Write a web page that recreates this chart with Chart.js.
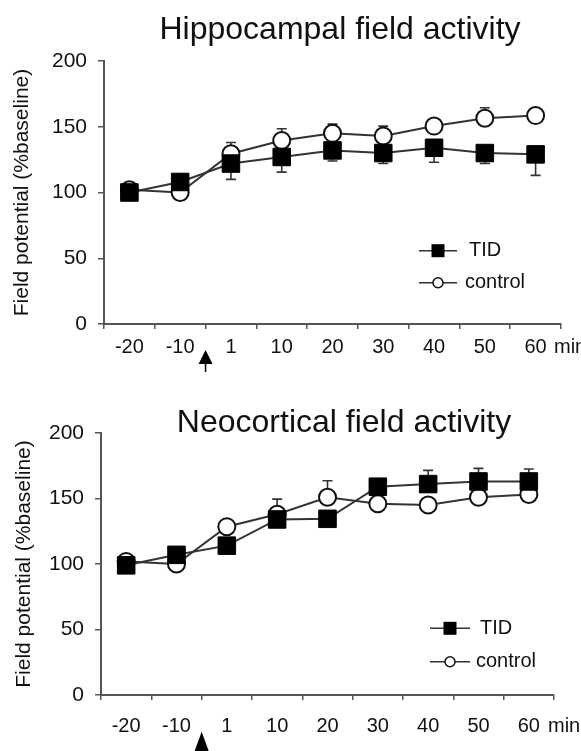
<!DOCTYPE html>
<html>
<head>
<meta charset="utf-8">
<script src="https://cdn.jsdelivr.net/npm/chart.js@4/dist/chart.umd.min.js"></script>
<style>
  body { margin: 0; background: #fff; width: 581px; height: 751px; overflow: hidden; position: relative; }
  canvas { position: absolute; left: 0; }
  #hipChart { top: 0; }
  #neoChart { top: 375px; }
</style>
</head>
<body>
<canvas id="hipChart" width="581" height="375"></canvas>
<canvas id="neoChart" width="581" height="376"></canvas>
<script>
var minutos = ['-20', '-10', '1', '10', '20', '30', '40', '50', '60'];
var yMin = 0, yMax = 200, yPaso = 50;

// Hippocampal
var hipTID = [100, 108, 122, 127, 132, 130, 134, 130, 129];
var hipTIDErr = [0, 0, 12, 11.5, 8, 8, 11, 8, 16];
var hipControl = [102, 100, 129.5, 139.5, 145, 143, 150.5, 156.5, 158.5];
var hipControlErr = [0, 0, 8.5, 9, 7, 7.5, 0, 8, 0];

// Neocortical
var neoTID = [99, 107, 114, 134, 134.5, 159, 161, 163, 163];
var neoTIDErr = [0, 0, 0, 0, 0, 0, 10.5, 10, 9.5];
var neoControl = [102, 100, 128.5, 138, 151, 146, 145, 151, 153];
var neoControlErr = [0, 0, 0, 11.5, 12.5, 0, 0, 0, 0];

var fuente = '"Liberation Sans", Arial, sans-serif';
var colorTexto = '#111';
var colorEje = '#555';

// whiskers drawn under the markers
var barrasError = {
    id: 'barrasError',
    beforeDatasetsDraw: function(chart) {
        var ctx = chart.ctx;
        var escalaY = chart.scales.y;
        ctx.save();
        ctx.strokeStyle = '#333';
        ctx.lineWidth = 1.6;
        chart.data.datasets.forEach(function(ds, i) {
            var meta = chart.getDatasetMeta(i);
            ds.errores.forEach(function(err, j) {
                if (!err) return;
                var x = meta.data[j].x;
                var y0 = escalaY.getPixelForValue(ds.data[j]);
                var y1 = escalaY.getPixelForValue(ds.data[j] + ds.sentido * err);
                ctx.beginPath();
                ctx.moveTo(x, y0);
                ctx.lineTo(x, y1);
                ctx.moveTo(x - 5, y1);
                ctx.lineTo(x + 5, y1);
                ctx.stroke();
            });
        });
        ctx.restore();
    }
};

// title, legend, arrow and "min." label
var decoracion = {
    id: 'decoracion',
    afterDraw: function(chart, args, op) {
        var ctx = chart.ctx;
        var escalaX = chart.scales.x;
        ctx.save();
        ctx.fillStyle = colorTexto;

        ctx.font = '32px ' + fuente;
        ctx.textAlign = 'center';
        ctx.textBaseline = 'alphabetic';
        ctx.fillText(op.titulo, op.tituloX, op.tituloY);

        ctx.font = '20px ' + fuente;
        ctx.textAlign = 'left';
        ctx.textBaseline = 'middle';
        ctx.fillText('min.', op.minX, op.minY);

        // arrow between -10 and 1
        var xa = escalaX.getPixelForValue(1.5);
        ctx.fillStyle = '#000';
        ctx.beginPath();
        ctx.moveTo(xa, op.flecha[0]);
        ctx.lineTo(xa - op.flecha[2], op.flecha[1]);
        ctx.lineTo(xa + op.flecha[2], op.flecha[1]);
        ctx.closePath();
        ctx.fill();
        ctx.strokeStyle = '#000';
        ctx.lineWidth = 1.5;
        ctx.beginPath();
        ctx.moveTo(xa, op.flecha[1]);
        ctx.lineTo(xa, op.flecha[3]);
        ctx.stroke();

        // legend
        var lg = op.leyenda;
        ctx.strokeStyle = '#333';
        ctx.lineWidth = 1.6;
        [lg.y1, lg.y2].forEach(function(yy) {
            ctx.beginPath();
            ctx.moveTo(lg.x0, yy);
            ctx.lineTo(lg.x1, yy);
            ctx.stroke();
        });
        var xm = (lg.x0 + lg.x1) / 2;
        ctx.fillStyle = '#000';
        ctx.fillRect(xm - 6.5, lg.y1 - 6.5, 13, 13);
        ctx.beginPath();
        ctx.arc(xm, lg.y2, 5, 0, Math.PI * 2);
        ctx.fillStyle = '#fff';
        ctx.fill();
        ctx.strokeStyle = '#111';
        ctx.lineWidth = 1.5;
        ctx.stroke();
        ctx.fillStyle = colorTexto;
        ctx.font = '20px ' + fuente;
        ctx.textAlign = 'left';
        ctx.fillText('TID', lg.xt, lg.y1);
        ctx.fillText('control', lg.xt - 4, lg.y2);
        ctx.restore();
    }
};

function dibujarPanel(idCanvas, tid, tidErr, tidSentido, control, controlErr, panel) {
    var ctx = document.getElementById(idCanvas);
    return new Chart(ctx, {
        type: 'line',
        data: {
            labels: minutos,
            datasets: [{
                label: 'TID',
                data: tid,
                errores: tidErr,
                sentido: tidSentido,
                borderColor: '#333',
                borderWidth: 2,
                pointStyle: 'rect',
                pointRadius: 12.4,
                pointBackgroundColor: '#000',
                pointBorderColor: '#000',
                pointBorderWidth: 1,
                clip: false
            }, {
                label: 'control',
                data: control,
                errores: controlErr,
                sentido: 1,
                borderColor: '#333',
                borderWidth: 2,
                pointStyle: 'circle',
                pointRadius: 8.5,
                pointBackgroundColor: '#fff',
                pointBorderColor: '#111',
                pointBorderWidth: 2,
                clip: false
            }]
        },
        options: {
            responsive: false,
            animation: false,
            layout: { padding: { left: 0, right: panel.derecha, top: panel.arriba, bottom: 0 } },
            plugins: {
                legend: { display: false },
                tooltip: { enabled: false },
                title: { display: false },
                decoracion: panel.deco
            },
            scales: {
                x: {
                    offset: true,
                    grid: { offset: true, drawOnChartArea: false, drawTicks: true, tickLength: 5, color: colorEje, lineWidth: 1.5 },
                    border: { color: colorEje, width: 2 },
                    ticks: { color: colorTexto, font: { family: fuente, size: 20 }, padding: panel.padX, maxRotation: 0, autoSkip: false },
                    afterFit: function(s) { s.height = panel.altoX; }
                },
                y: {
                    min: yMin,
                    max: yMax,
                    grid: { drawOnChartArea: false, drawTicks: true, tickLength: 6, color: colorEje, lineWidth: 1.5 },
                    border: { color: colorEje, width: 2 },
                    ticks: { stepSize: yPaso, color: colorTexto, font: { family: fuente, size: 21 }, padding: 11 },
                    title: {
                        display: true,
                        text: 'Field potential (%baseline)',
                        color: colorTexto,
                        font: { family: fuente, size: 21 },
                        padding: { top: panel.tituloY, bottom: 0 }
                    },
                    afterFit: function(s) { s.width = panel.izquierda; }
                }
            }
        },
        plugins: [barrasError, decoracion]
    });
}

dibujarPanel('hipChart', hipTID, hipTIDErr, -1, hipControl, hipControlErr, {
    izquierda: 104, derecha: 20, arriba: 61, altoX: 51, tituloY: 10, padX: 6,
    deco: {
        titulo: 'Hippocampal field activity', tituloX: 340, tituloY: 38.5,
        minX: 554, minY: 347.5,
        flecha: [350, 364, 7, 372],
        leyenda: { x0: 419, x1: 457, xt: 469, y1: 250.7, y2: 282.7 }
    }
});

dibujarPanel('neoChart', neoTID, neoTIDErr, 1, neoControl, neoControlErr, {
    izquierda: 101, derecha: 27, arriba: 58, altoX: 56, tituloY: 12, padX: 14,
    deco: {
        titulo: 'Neocortical field activity', tituloX: 344, tituloY: 56.5,
        minX: 548, minY: 351.5,
        flecha: [356.7, 380, 8.5, 380],
        leyenda: { x0: 430, x1: 470, xt: 480, y1: 253.3, y2: 286.7 }
    }
});
</script>
</body>
</html>
